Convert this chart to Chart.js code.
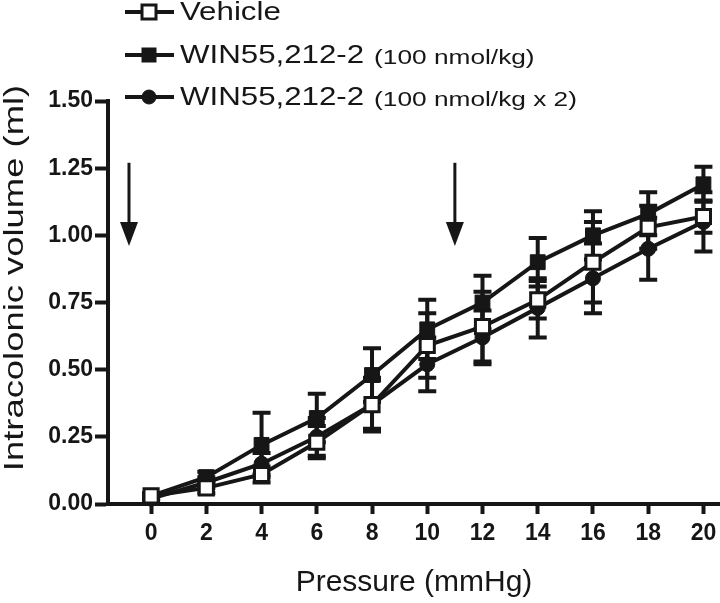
<!DOCTYPE html>
<html>
<head>
<meta charset="utf-8">
<title>Intracolonic volume vs pressure</title>
<script src="https://cdn.jsdelivr.net/npm/chart.js@4.4.1/dist/chart.umd.min.js"></script>
<style>
    html, body { margin: 0; padding: 0; background: #fff; }
    #wrap { position: relative; width: 720px; height: 603px; }
</style>
</head>
<body>
<div id="wrap"><canvas id="volumeChart"></canvas></div>
<script>
// Data
const pressure = [0, 2, 4, 6, 8, 10, 12, 14, 16, 18, 20];
const xTicks = [0, 2, 4, 6, 8, 10, 12, 14, 16, 18, 20];
const yTicks = [0, 0.25, 0.5, 0.75, 1.0, 1.25, 1.5];

const vehicleMean = [0.03, 0.06, 0.11, 0.23, 0.37, 0.59, 0.66, 0.76, 0.90, 1.03, 1.07];
const vehicleSem  = [0.01, 0.02, 0.03, 0.06, 0.10, 0.12, 0.13, 0.07, 0.15, 0.08, 0.06];

const winMean = [0.03, 0.10, 0.22, 0.32, 0.48, 0.65, 0.75, 0.90, 1.00, 1.08, 1.19];
const winSem  = [0.01, 0.02, 0.12, 0.09, 0.10, 0.11, 0.10, 0.09, 0.09, 0.08, 0.065];

const win2Mean = [0.02, 0.08, 0.15, 0.25, 0.37, 0.52, 0.62, 0.73, 0.84, 0.95, 1.05];
const win2Sem  = [0.01, 0.02, 0.04, 0.07, 0.09, 0.10, 0.10, 0.11, 0.13, 0.115, 0.11];

// arrows (drug injections) in data units
const arrowX = [-0.8, 11];
const arrowFrom = 1.27;
const arrowTo = 0.96;

const yTitle = 'Intracolonic volume (ml)';

const INK = '#161616';
const FONT = '"Liberation Sans", Arial, Helvetica, sans-serif';

function points(means) {
    return pressure.map((p, i) => ({ x: p, y: means[i] }));
}

/**
 * Error bars (mean +/- SEM), drawn before the symbols
 */
const errorBars = {
    id: 'errorBars',
    beforeDatasetsDraw(chart) {
        const { ctx, scales: { x, y } } = chart;
        ctx.save();
        ctx.strokeStyle = INK;
        ctx.lineWidth = 4;
        chart.data.datasets.forEach((ds) => {
            ds.sem.forEach((s, i) => {
                const px = x.getPixelForValue(ds.data[i].x);
                const top = y.getPixelForValue(ds.data[i].y + s);
                const bot = y.getPixelForValue(ds.data[i].y - s);
                ctx.beginPath();
                ctx.moveTo(px, top);
                ctx.lineTo(px, bot);
                ctx.moveTo(px - 9, top);
                ctx.lineTo(px + 9, top);
                ctx.moveTo(px - 9, bot);
                ctx.lineTo(px + 9, bot);
                ctx.stroke();
            });
        });
        ctx.restore();
    }
};

/**
 * Injection arrows
 */
const arrows = {
    id: 'arrows',
    afterDatasetsDraw(chart) {
        const { ctx, scales: { x, y } } = chart;
        ctx.save();
        ctx.strokeStyle = INK;
        ctx.fillStyle = INK;
        ctx.lineWidth = 3;
        arrowX.forEach((ax) => {
            const px = x.getPixelForValue(ax);
            const y0 = y.getPixelForValue(arrowFrom);
            const y1 = y.getPixelForValue(arrowTo);
            ctx.beginPath();
            ctx.moveTo(px, y0);
            ctx.lineTo(px, y1 - 20);
            ctx.stroke();
            ctx.beginPath();
            ctx.moveTo(px - 9, y1 - 24);
            ctx.lineTo(px + 9, y1 - 24);
            ctx.lineTo(px, y1);
            ctx.closePath();
            ctx.fill();
        });
        ctx.restore();
    }
};

/**
 * Legend at the top-left, GraphPad style (line - symbol - line)
 * plus the y axis title, which sits a bit above the axis middle
 */
const topLegend = {
    id: 'topLegend',
    afterDraw(chart) {
        const { ctx } = chart;
        const rowsY = [12, 55, 97];
        ctx.save();
        chart.data.datasets.forEach((ds, i) => {
            const cy = rowsY[i];
            ctx.strokeStyle = INK;
            ctx.lineWidth = 4;
            ctx.beginPath();
            ctx.moveTo(125, cy);
            ctx.lineTo(174, cy);
            ctx.stroke();

            ctx.fillStyle = ds.pointBackgroundColor;
            ctx.lineWidth = ds.pointBorderWidth;
            if (ds.pointStyle === 'circle') {
                ctx.beginPath();
                ctx.arc(149, cy, 7, 0, Math.PI * 2);
                ctx.fill();
                ctx.stroke();
            } else {
                ctx.fillRect(142, cy - 7, 14, 14);
                ctx.strokeRect(142, cy - 7, 14, 14);
            }

            const cut = ds.label.indexOf(' (');
            const main = cut > 0 ? ds.label.slice(0, cut) : ds.label;
            const note = cut > 0 ? ds.label.slice(cut + 1) : '';
            ctx.fillStyle = INK;
            ctx.textBaseline = 'middle';
            ctx.textAlign = 'left';
            ctx.save();
            ctx.translate(180, cy + 1);
            ctx.scale(1.25, 1);
            ctx.font = '25px ' + FONT;
            ctx.fillText(main, 0, 0);
            const w = ctx.measureText(main).width;
            if (note) {
                ctx.font = '21px ' + FONT;
                ctx.fillText(note, w + 8, 2);
            }
            ctx.restore();
        });

        // y title
        ctx.save();
        ctx.fillStyle = INK;
        ctx.textAlign = 'center';
        ctx.textBaseline = 'middle';
        ctx.translate(15, 278);
        ctx.rotate(-Math.PI / 2);
        ctx.scale(1.3, 1);
        ctx.font = '28px ' + FONT;
        ctx.fillText(yTitle, 0, 0);
        ctx.restore();

        ctx.restore();
    }
};

const ctx = document.getElementById('volumeChart').getContext('2d');

const volumeChart = new Chart(ctx, {
    type: 'line',
    data: {
        datasets: [
            {
                label: 'Vehicle',
                data: points(vehicleMean),
                sem: vehicleSem,
                borderColor: INK,
                borderWidth: 4,
                pointStyle: 'rect',
                pointRadius: 10,
                pointBackgroundColor: '#ffffff',
                pointBorderColor: INK,
                pointBorderWidth: 3
            },
            {
                label: 'WIN55,212-2 (100 nmol/kg)',
                data: points(winMean),
                sem: winSem,
                borderColor: INK,
                borderWidth: 4,
                pointStyle: 'rect',
                pointRadius: 10.5,
                pointBackgroundColor: INK,
                pointBorderColor: INK,
                pointBorderWidth: 1
            },
            {
                label: 'WIN55,212-2 (100 nmol/kg x 2)',
                data: points(win2Mean),
                sem: win2Sem,
                borderColor: INK,
                borderWidth: 4,
                pointStyle: 'circle',
                pointRadius: 7.5,
                pointBackgroundColor: INK,
                pointBorderColor: INK,
                pointBorderWidth: 1
            }
        ]
    },
    options: {
        responsive: true,
        maintainAspectRatio: false,
        animation: false,
        clip: false,
        layout: {
            autoPadding: false,
            padding: { top: 101, right: 0, left: 0, bottom: 0 }
        },
        plugins: {
            legend: { display: false },
            tooltip: { enabled: false }
        },
        scales: {
            x: {
                type: 'linear',
                min: -1.56,
                max: 20.6,
                afterBuildTicks(scale) {
                    scale.ticks = xTicks.map(v => ({ value: v }));
                },
                afterFit(scale) {
                    scale.height = 99;
                    // let the axis run to the right edge like the figure
                    scale.paddingLeft = 0;
                    scale.paddingRight = 0;
                },
                grid: {
                    display: true,
                    drawOnChartArea: false,
                    tickLength: 10,
                    tickWidth: 4,
                    tickColor: INK
                },
                border: { display: true, width: 4, color: INK },
                ticks: {
                    color: INK,
                    padding: 6,
                    maxRotation: 0,
                    font: { family: FONT, size: 23, weight: 'bold' }
                },
                title: {
                    display: true,
                    text: 'Pressure (mmHg)',
                    color: INK,
                    padding: { top: 0, bottom: 2 },
                    font: { family: FONT, size: 30 }
                }
            },
            y: {
                type: 'linear',
                min: 0,
                max: 1.5,
                afterBuildTicks(scale) {
                    scale.ticks = yTicks.map(v => ({ value: v }));
                },
                afterFit(scale) {
                    scale.width = 108;
                    scale.paddingTop = 0;
                    scale.paddingBottom = 0;
                },
                grid: {
                    display: true,
                    drawOnChartArea: false,
                    tickLength: 13,
                    tickWidth: 4,
                    tickColor: INK
                },
                border: { display: true, width: 4, color: INK },
                ticks: {
                    color: INK,
                    padding: 2,
                    font: { family: FONT, size: 23, weight: 'bold' },
                    callback: function (value) {
                        return value.toFixed(2);
                    }
                },
                title: { display: false }
            }
        }
    },
    plugins: [errorBars, arrows, topLegend]
});
</script>
</body>
</html>
